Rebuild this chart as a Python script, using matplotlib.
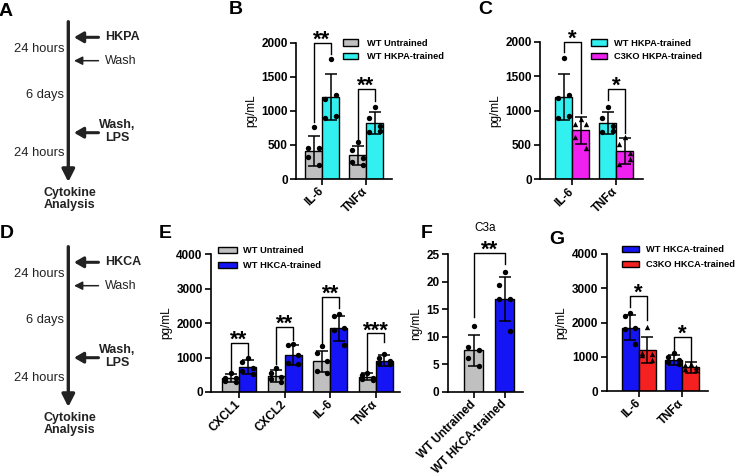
import numpy as np
import matplotlib
matplotlib.use("Agg")
import matplotlib.pyplot as plt
from matplotlib.patches import Patch

plt.rcParams['font.family'] = ['Liberation Sans', 'DejaVu Sans']
plt.rcParams['axes.linewidth'] = 1.2

W, H = 736, 476

# ---- data ----
B_GROUPS = ['IL-6', 'TNFα']
B_LABELS = ['WT Untrained', 'WT HKPA-trained']
B_MEAN = [[410, 345], [1200, 820]]
B_SD = [[220, 135], [340, 160]]
B_POINTS = [[[760, 450, 460, 330, 200], [540, 420, 310, 250, 200]],
            [[1760, 1180, 1230, 900, 920], [1060, 900, 780, 690, 700]]]
B_SIG = ['**', '**']
B_TOP = [2000, 1320]
B_LEGS = [[830, 1830], [560, 1140]]

C_GROUPS = ['IL-6', 'TNFα']
C_LABELS = ['WT HKPA-trained', 'C3KO HKPA-trained']
C_MEAN = [[1200, 820], [715, 410]]
C_SD = [[340, 160], [195, 190]]
C_POINTS = [[[1760, 1180, 1230, 900, 920], [1060, 900, 780, 690, 700]],
            [[880, 800, 810, 620, 450], [620, 510, 380, 220, 290]]]
C_SIG = ['*', '*']
C_TOP = [2000, 1320]
C_LEGS = [[1860, 966], [1155, 674]]

E_GROUPS = ['CXCL1', 'CXCL2', 'IL-6', 'TNFα']
E_LABELS = ['WT Untrained', 'WT HKCA-trained']
E_MEAN = [[410, 470, 890, 445], [735, 1080, 1850, 915]]
E_SD = [[110, 180, 310, 110], [200, 290, 360, 150]]
E_POINTS = [[[560, 420, 400, 330, 300], [700, 540, 450, 380, 300],
             [1340, 1130, 900, 620, 560], [560, 500, 420, 380, 350]],
            [[980, 880, 700, 620, 520], [1380, 1360, 1080, 850, 800],
             [2280, 2200, 1850, 1800, 1360], [1110, 980, 900, 850, 800]]]
E_SIG = ['**', '**', '**', '***']
E_TOP = [1430, 1880, 2770, 1700]
E_LEGS = [[650, 1080], [800, 1500], [1430, 2430], [650, 1460]]

F_TITLE = 'C3a'
F_LABELS = ['WT Untrained', 'WT HKCA-trained']
F_MEAN = [7.6, 16.9]
F_SD = [2.8, 4.0]
F_POINTS = [[12.0, 8.2, 7.6, 6.1, 4.7], [21.7, 19.5, 16.8, 16.9, 11.1]]
F_SIG = '**'
F_TOP = 25.2
F_LEGS = [13.7, 23.2]

G_GROUPS = ['IL-6', 'TNFα']
G_LABELS = ['WT HKCA-trained', 'C3KO HKCA-trained']
G_MEAN = [[1850, 915], [1200, 690]]
G_SD = [[360, 150], [390, 150]]
G_POINTS = [[[2280, 2200, 1850, 1800, 1360], [1110, 980, 900, 850, 800]],
            [[1860, 1100, 1080, 1060, 900], [780, 760, 700, 650, 600]]]
G_SIG = ['*', '*']
G_TOP = [2770, 1590]
G_LEGS = [[2460, 2070], [1200, 860]]

GRAY, CYAN, MAGENTA = '#c0c0c0', '#33f0f0', '#f020f0'
BLUE, RED = '#1414f5', '#f52020'
DARK = '#222222'
OFFS = [0.0, -0.3, 0.3, -0.3, 0.3]


def px_axes(fig, l, t, r, b):
    return fig.add_axes([l / W, 1 - b / H, (r - l) / W, (b - t) / H])


def style_axes(ax, ylim, yticks, groups, ylabel):
    for s in ['top', 'right']:
        ax.spines[s].set_visible(False)
    ax.set_ylim(*ylim)
    ax.set_yticks(yticks)
    ax.set_yticklabels([str(t) for t in yticks], fontsize=8.5, fontweight='bold')
    ax.set_xticks(np.arange(len(groups)))
    ax.set_xticklabels(groups, rotation=45, ha='right', va='center',
                       rotation_mode='anchor', fontsize=8.5, fontweight='bold')
    ax.tick_params(axis='y', length=4, width=1.2, pad=2)
    ax.tick_params(axis='x', length=4.5, width=1.2, pad=3)
    if ylabel:
        ax.set_ylabel(ylabel, fontsize=8.5, labelpad=3)


def draw_bars(ax, means, sds, points, colors, markers, width):
    ns = len(means)
    for s in range(ns):
        xs = np.arange(len(means[s])) + (s - (ns - 1) / 2) * width
        ax.bar(xs, means[s], width, color=colors[s], edgecolor='black',
               linewidth=1, zorder=2)
        ax.errorbar(xs, means[s], yerr=sds[s], fmt='none', ecolor='black',
                    elinewidth=1.1, capsize=4, capthick=1.1, zorder=3)
        for g, vals in enumerate(points[s]):
            px = xs[g] + np.array(OFFS[:len(vals)]) * width
            ax.scatter(px, vals, marker=markers[s], s=15, color='black',
                       zorder=4, clip_on=False, linewidths=0)


def bracket(ax, x1, x2, top, l1, l2, txt):
    ax.plot([x1, x1, x2, x2], [l1, top, top, l2], color='black', lw=1,
            clip_on=False, zorder=5)
    ax.annotate(txt, xy=((x1 + x2) / 2, top), xytext=(0, -2),
                textcoords='offset points', ha='center', va='baseline',
                fontsize=16, fontweight='bold', annotation_clip=False)


def add_brackets(ax, width, sig, tops, legs):
    for g in range(len(sig)):
        bracket(ax, g - width / 2, g + width / 2, tops[g], legs[g][0],
                legs[g][1], sig[g])


def add_legend(fig, ax, labels, colors, x, y, hl, pad, spacing):
    handles = [Patch(facecolor=c, edgecolor='black', lw=1) for c in colors]
    ax.legend(handles, labels, loc='upper left',
              bbox_to_anchor=(x / W, 1 - y / H), bbox_transform=fig.transFigure,
              frameon=False, prop=dict(weight='bold', size=6.7),
              handlelength=hl, handleheight=0.75, handletextpad=pad,
              labelspacing=spacing, borderpad=0, borderaxespad=0)


def draw_timeline(ax, agent):
    ax.set_xlim(0, 160)
    ax.set_ylim(240, 0)
    ax.axis('off')
    ax.annotate('', xy=(68.3, 182), xytext=(68.3, 21.7),
                arrowprops=dict(arrowstyle='-|>,head_length=0.75,head_width=0.38',
                                lw=2.4, color=DARK, shrinkA=0, shrinkB=0,
                                mutation_scale=10))
    thick = dict(arrowstyle='-|>,head_length=0.55,head_width=0.32', lw=2.2,
                 color=DARK, shrinkA=0, shrinkB=0, mutation_scale=10)
    thin = dict(arrowstyle='-|>,head_length=0.5,head_width=0.25', lw=1.1,
                color=DARK, shrinkA=0, shrinkB=0, mutation_scale=10)
    for y, props in [(37.3, thick), (60.7, thin), (132.7, thick)]:
        ax.annotate('', xy=(74, y), xytext=(98.5, y), arrowprops=props)
    ax.text(105, 37.3, agent, fontsize=9, fontweight='bold', color=DARK,
            va='center', ha='left')
    ax.text(105, 60.7, 'Wash', fontsize=9, color=DARK, va='center', ha='left')
    ax.text(117, 131.5, 'Wash,\nLPS', fontsize=9, fontweight='bold', color=DARK,
            va='center', ha='center', linespacing=1.05)
    for y, s in [(49.3, '24 hours'), (95, '6 days'), (153.3, '24 hours')]:
        ax.text(64.5, y, s, fontsize=9.3, color=DARK, va='center', ha='right')
    ax.text(70, 199, 'Cytokine\nAnalysis', fontsize=9, fontweight='bold',
            color=DARK, va='center', ha='center', linespacing=1.05)


def main():
    fig = plt.figure(figsize=(W / 100, H / 100), dpi=100)

    # timelines
    draw_timeline(px_axes(fig, 0, 0, 160, 240), 'HKPA')
    draw_timeline(px_axes(fig, 0, 225, 160, 465), 'HKCA')

    # B
    ax = px_axes(fig, 296, 42.7, 392, 179)
    wb = 17 / 44
    draw_bars(ax, B_MEAN, B_SD, B_POINTS, [GRAY, CYAN], ['o', 'o'], wb)
    style_axes(ax, (0, 2000), [0, 500, 1000, 1500, 2000], B_GROUPS, 'pg/mL')
    ax.set_xlim(-26 / 44, 1 + 26 / 44)
    add_brackets(ax, wb, B_SIG, B_TOP, B_LEGS)
    add_legend(fig, ax, B_LABELS, [GRAY, CYAN], 342.7, 38.6, 1.6, 1.0, 0.5)

    # C
    ax = px_axes(fig, 540, 42, 643, 179.3)
    wc = 17 / 44
    draw_bars(ax, C_MEAN, C_SD, C_POINTS, [CYAN, MAGENTA], ['o', '^'], wc)
    style_axes(ax, (0, 2000), [0, 500, 1000, 1500, 2000], C_GROUPS, 'pg/mL')
    ax.set_xlim(-32 / 44, 1 + 27 / 44)
    add_brackets(ax, wc, C_SIG, C_TOP, C_LEGS)
    add_legend(fig, ax, C_LABELS, [CYAN, MAGENTA], 591, 38.6, 1.72, 0.75, 0.5)

    # E
    ax = px_axes(fig, 211, 254.3, 400, 392)
    we = 17 / 45.6
    draw_bars(ax, E_MEAN, E_SD, E_POINTS, [GRAY, BLUE], ['o', 'o'], we)
    style_axes(ax, (0, 4000), [0, 1000, 2000, 3000, 4000], E_GROUPS, 'pg/mL')
    ax.set_xlim(-28 / 45.6, 3 + 24 / 45.6)
    add_brackets(ax, we, E_SIG, E_TOP, E_LEGS)
    add_legend(fig, ax, E_LABELS, [GRAY, BLUE], 218, 246.3, 2.04, 0.65, 0.63)

    # F
    ax = px_axes(fig, 447.7, 254.3, 523, 392)
    wf = 19 / 31
    xs = np.arange(len(F_MEAN))
    ax.bar(xs, F_MEAN, wf, color=[GRAY, BLUE], edgecolor='black', linewidth=1,
           zorder=2)
    ax.errorbar(xs, F_MEAN, yerr=F_SD, fmt='none', ecolor='black',
                elinewidth=1.1, capsize=4.5, capthick=1.1, zorder=3)
    for i, vals in enumerate(F_POINTS):
        ax.scatter(xs[i] + np.array(OFFS[:len(vals)]) * wf, vals, marker='o',
                   s=15, color='black', zorder=4, linewidths=0)
    style_axes(ax, (0, 25), [0, 5, 10, 15, 20, 25], F_LABELS, 'ng/mL')
    ax.set_xlim(-26 / 31, 1 + 18.3 / 31)
    bracket(ax, 0, 1, F_TOP, F_LEGS[0], F_LEGS[1], F_SIG)
    ax.set_title(F_TITLE, fontsize=8.5, pad=17)

    # G
    ax = px_axes(fig, 606.7, 254, 708, 391)
    wg = 17 / 43.3
    draw_bars(ax, G_MEAN, G_SD, G_POINTS, [BLUE, RED], ['o', '^'], wg)
    style_axes(ax, (0, 4000), [0, 1000, 2000, 3000, 4000], G_GROUPS, 'pg/mL')
    ax.set_xlim(-32 / 43.3, 1 + 26 / 43.3)
    add_brackets(ax, wg, G_SIG, G_TOP, G_LEGS)
    add_legend(fig, ax, G_LABELS, [BLUE, RED], 621.7, 245.3, 1.86, 0.7, 0.63)

    # panel letters
    for s, x, y in [('A', 6, 12), ('B', 236, 9), ('C', 485, 10), ('D', 7, 233),
                    ('E', 165, 233), ('F', 427, 233), ('G', 557, 240)]:
        fig.text(x / W, 1 - y / H, s, fontsize=14, fontweight='bold',
                 ha='center', va='center')

    fig.savefig('out.png', dpi=100)


if __name__ == '__main__':
    main()
